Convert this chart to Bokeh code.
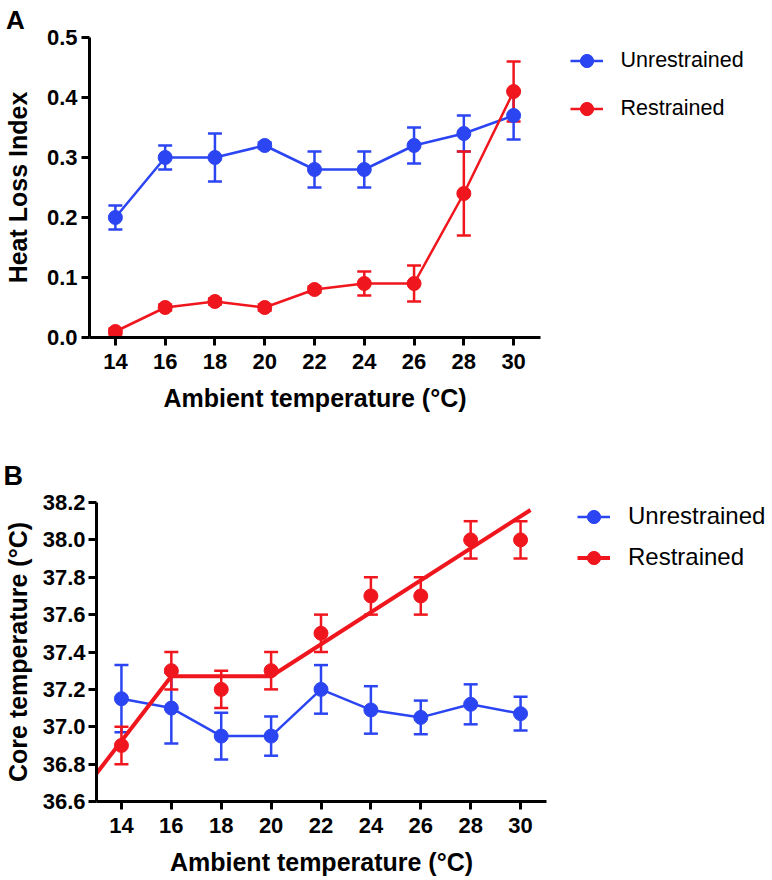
from bokeh.plotting import figure
from bokeh.models import (ColumnDataSource, Whisker, TeeHead, Range1d, FixedTicker,
                          Legend, LegendItem, CustomJSTickFormatter)
from bokeh.layouts import column
from bokeh.embed import file_html
from bokeh.resources import INLINE

# ---------------- data ----------------
temps = [14, 16, 18, 20, 22, 24, 26, 28, 30]

hli_unres = [0.20, 0.30, 0.30, 0.32, 0.28, 0.28, 0.32, 0.34, 0.37]
hli_unres_err = [0.02, 0.02, 0.04, 0.005, 0.03, 0.03, 0.03, 0.03, 0.04]
hli_res = [0.01, 0.05, 0.06, 0.05, 0.08, 0.09, 0.09, 0.24, 0.41]
hli_res_err = [0.005, 0.005, 0.005, 0.005, 0.005, 0.02, 0.03, 0.07, 0.05]

core_unres = [37.15, 37.10, 36.95, 36.95, 37.20, 37.09, 37.05, 37.12, 37.07]
core_unres_err = [0.18, 0.19, 0.125, 0.105, 0.13, 0.127, 0.09, 0.107, 0.09]
core_res = [36.90, 37.30, 37.20, 37.30, 37.50, 37.70, 37.70, 38.00, 38.00]
core_res_err = [0.10, 0.10, 0.10, 0.10, 0.10, 0.10, 0.10, 0.10, 0.10]

fit_x = [13.0, 16.0, 20.0, 30.4]
fit_y = [36.75, 37.27, 37.27, 38.16]

x_ticks = [14, 16, 18, 20, 22, 24, 26, 28, 30]
a_y_ticks = [0.0, 0.1, 0.2, 0.3, 0.4, 0.5]
b_y_ticks = [36.6, 36.8, 37.0, 37.2, 37.4, 37.6, 37.8, 38.0, 38.2]

BLUE = "#2b45f2"
RED = "#f0161e"
FONT = "Liberation Sans"


def src(y, e):
    return ColumnDataSource(dict(x=temps, y=y,
                                 lo=[a - b for a, b in zip(y, e)],
                                 hi=[a + b for a, b in zip(y, e)]))


def style(p, yticks, xlabel, ylabel, y_label_standoff, y_title_standoff):
    p.xgrid.visible = False
    p.ygrid.visible = False
    p.outline_line_color = None
    p.xaxis.ticker = FixedTicker(ticks=x_ticks)
    p.yaxis.ticker = FixedTicker(ticks=yticks)
    p.yaxis.formatter = CustomJSTickFormatter(code="return tick.toFixed(1)")
    for ax in (p.xaxis[0], p.yaxis[0]):
        ax.axis_line_width = 3
        ax.axis_line_color = "black"
        ax.major_tick_line_width = 3
        ax.major_tick_out = 8
        ax.major_tick_in = 0
        ax.minor_tick_line_color = None
        ax.major_label_text_font = FONT
        ax.major_label_text_font_style = "bold"
        ax.major_label_text_font_size = "22px"
        ax.major_label_text_color = "black"
        ax.axis_label_text_font = FONT
        ax.axis_label_text_font_style = "bold"
        ax.axis_label_text_font_size = "25px"
        ax.axis_label_text_color = "black"
    p.xaxis.axis_label = xlabel
    p.yaxis.axis_label = ylabel
    p.xaxis.major_label_standoff = 8
    p.xaxis.axis_label_standoff = 12
    p.yaxis.major_label_standoff = y_label_standoff
    p.yaxis.axis_label_standoff = y_title_standoff


def panel_title(p, text, size, offset, standoff):
    p.title.text = text
    p.title.align = "left"
    p.title.offset = offset
    p.title.standoff = standoff
    p.title.text_font = FONT
    p.title.text_font_style = "bold"
    p.title.text_font_size = size
    p.title.text_color = "black"


def whisk(p, s, color):
    w = Whisker(source=s, base="x", lower="lo", upper="hi", dimension="height",
                line_color=color, line_width=2.5, level="underlay",
                upper_head=TeeHead(size=14, line_color=color, line_width=2.5),
                lower_head=TeeHead(size=14, line_color=color, line_width=2.5))
    p.add_layout(w)


def legend(p, items, loc, fs, standoff, spacing):
    lg = Legend(items=items, location=loc, orientation="vertical",
                padding=0, margin=0, glyph_width=33, glyph_height=33,
                label_height=24, label_standoff=standoff, spacing=spacing,
                border_line_color=None, background_fill_alpha=0,
                label_text_font=FONT, label_text_font_size=fs,
                label_text_color="black")
    p.add_layout(lg, "right")


# ---------------- panel A ----------------
pa = figure(frame_width=451, frame_height=300, min_border_left=83, min_border_top=37,
            min_border_right=222, min_border_bottom=103, frame_align=False,
            x_range=Range1d(12.96, 31.08), y_range=Range1d(0, 0.5),
            output_backend="svg", toolbar_location=None)
style(pa, a_y_ticks, "Ambient temperature (°C)", "Heat Loss Index", 4, 12)
panel_title(pa, "A", "26px", -83.5, 5)
sa_u = src(hli_unres, hli_unres_err)
sa_r = src(hli_res, hli_res_err)
whisk(pa, sa_u, BLUE)
whisk(pa, sa_r, RED)
la_u = pa.line("x", "y", source=sa_u, line_color=BLUE, line_width=2.5)
ma_u = pa.scatter("x", "y", source=sa_u, size=14, fill_color=BLUE, line_color=BLUE)
la_r = pa.line("x", "y", source=sa_r, line_color=RED, line_width=2.5)
ma_r = pa.scatter("x", "y", source=sa_r, size=14, fill_color=RED, line_color=RED)
legend(pa, [LegendItem(label="Unrestrained", renderers=[la_u, ma_u]),
            LegendItem(label="Restrained", renderers=[la_r, ma_r])],
       (29.5, 212.5), "21.5px", 18, 15)

# ---------------- panel B ----------------
pb = figure(frame_width=450, frame_height=299, min_border_left=91, min_border_top=62,
            min_border_right=215, min_border_bottom=72, frame_align=False,
            x_range=Range1d(13.0, 31.04), y_range=Range1d(36.6, 38.2),
            output_backend="svg", toolbar_location=None)
style(pb, b_y_ticks, "Ambient temperature (°C)", "Core temperature (°C)", 3, 8)
panel_title(pb, "B", "27px", -93, 24)
sb_u = src(core_unres, core_unres_err)
sb_r = src(core_res, core_res_err)
whisk(pb, sb_u, BLUE)
whisk(pb, sb_r, RED)
lb_u = pb.line("x", "y", source=sb_u, line_color=BLUE, line_width=2.5)
mb_u = pb.scatter("x", "y", source=sb_u, size=14, fill_color=BLUE, line_color=BLUE)
fit = pb.line(fit_x, fit_y, line_color=RED, line_width=4)
mb_r = pb.scatter("x", "y", source=sb_r, size=14, fill_color=RED, line_color=RED)
legend(pb, [LegendItem(label="Unrestrained", renderers=[lb_u, mb_u]),
            LegendItem(label="Restrained", renderers=[fit, mb_r])],
       (31.0, 227.5), "24px", 18, 8)

layout = column(pa, pb, spacing=0)
open("out.html", "w").write(file_html(layout, INLINE))
